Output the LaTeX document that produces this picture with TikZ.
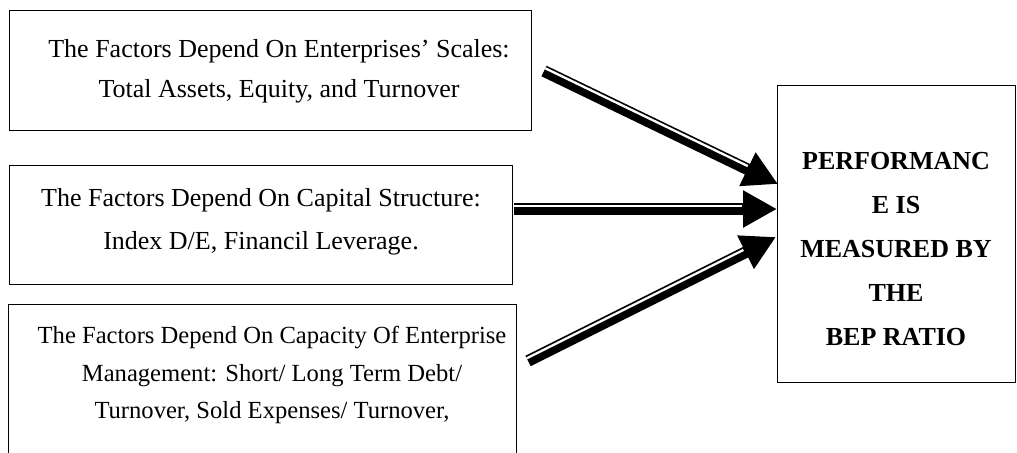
\documentclass[tikz,border=0pt]{standalone}
\usepackage{fontspec}
\setmainfont{Liberation Serif}
\usetikzlibrary{arrows.meta,calc,positioning}

\tikzset{
  factorbox/.style={draw, line width=0.7pt, rectangle, inner sep=0pt, anchor=north west},
  factortext/.style={align=center, font=\fontsize{13}{20}\selectfont, inner sep=0pt},
  bigarrow/.style={line width=5.85pt, -{Triangle[length=17pt,width=17.5pt]}},
  gapline/.style={white, line width=1.15pt}
}
% thick line with a thin one on its upper side
\newcommand{\dblarrow}[2]{%
  \draw[bigarrow] (#1) -- (#2);
  \coordinate (headbase) at ($(#2)!17.5pt!(#1)$);
  \draw[gapline] ($(#1)!1.5pt!90:(#2)$) -- ($(headbase)!1.5pt!-90:(#1)$);
}

\begin{document}
\begin{tikzpicture}[x=0.5pt,y=-0.5pt]
\useasboundingbox (0,0) rectangle (1017,452);
% factor boxes
\node[factorbox, minimum width=261pt, minimum height=60pt] (scales) at (9,10) {};
\node[factortext] (scalestext) at (279,71) {The Factors Depend On Enterprises’ Scales:\\Total Assets, Equity, and Turnover};
\node[factorbox, minimum width=251.5pt, minimum height=59.5pt] (capital) at (9,165) {};
\node[factortext, font=\fontsize{13}{21.5}\selectfont] (capitaltext) at (261,222) {The Factors Depend On Capital Structure:\\Index D/E, Financil Leverage.};
\node[factorbox, minimum width=254pt, minimum height=100pt] (mgmt) at (8,304) {};
\node[factortext, font=\fontsize{12.3}{18.75}\selectfont] (mgmttext) at (272,375) {The Factors Depend On Capacity Of Enterprise\\Management: Short/ Long Term Debt/\\Turnover, Sold Expenses/ Turnover,};
% result box
\node[factorbox, minimum width=119pt, minimum height=148.5pt] (result) at (777,85) {};
\node[factortext, font=\bfseries\fontsize{13}{22}\selectfont] (resulttext) at (896,249) {PERFORMANC\\E IS\\MEASURED BY\\THE\\BEP RATIO};
% arrows
\coordinate (scalesout) at (544,71);
\coordinate (capitalout) at ($(capital.north east)+(1,44)$);
\coordinate (mgmtout) at (528,361);
\coordinate (resultin1) at ($(result.north west)+(1,99)$);
\coordinate (resultin2) at ($(result.north west)+(0,124)$);
\coordinate (resultin3) at ($(result.north west)+(-1,152)$);
\dblarrow{scalesout}{resultin1}
\dblarrow{capitalout}{resultin2}
\dblarrow{mgmtout}{resultin3}
\end{tikzpicture}
\end{document}
